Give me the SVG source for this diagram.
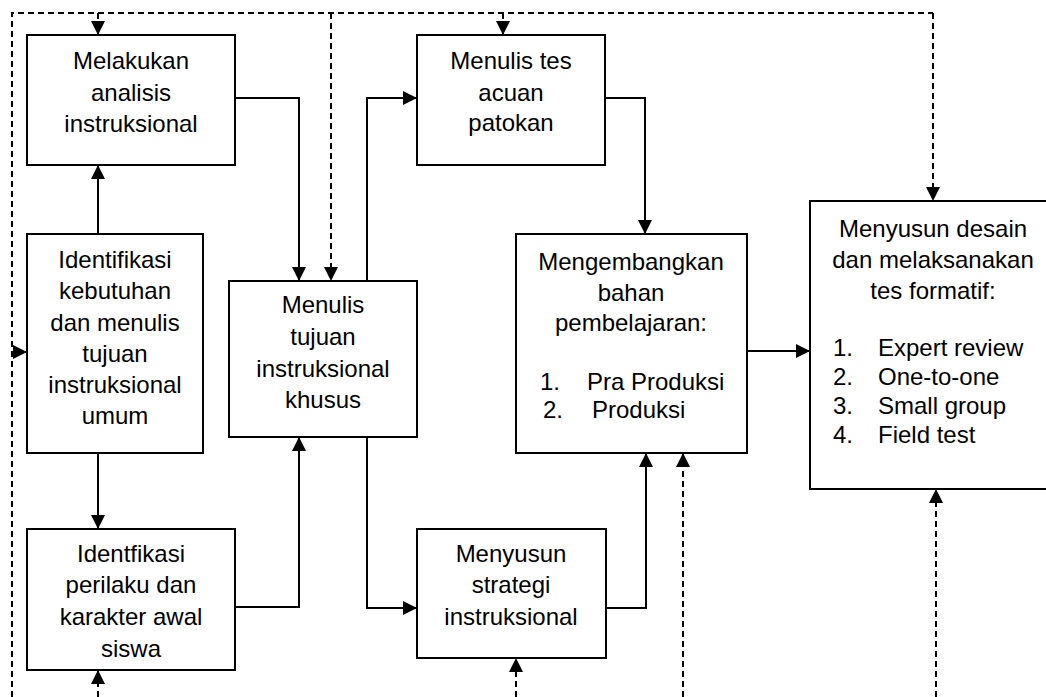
<svg xmlns="http://www.w3.org/2000/svg" width="1046" height="697" viewBox="0 0 1046 697">
<defs>
<marker id="ah" viewBox="0 0 14 14" refX="14" refY="7" markerWidth="14" markerHeight="14" markerUnits="userSpaceOnUse" orient="auto">
<path d="M0,0 L14,7 L0,14 z" fill="#000"/>
</marker>
<style>
.box{fill:#fff;stroke:#000;stroke-width:2}
.t{font-family:"Liberation Sans",Arial,sans-serif;font-size:24px;fill:#000;text-anchor:middle}
.l{font-family:"Liberation Sans",Arial,sans-serif;font-size:24px;fill:#000}
.c{fill:none;stroke:#000;stroke-width:2}
.a{marker-end:url(#ah)}
.d{stroke-dasharray:6 4}
</style>
</defs>
<rect width="1046" height="697" fill="#fff"/>
<g id="connectors">
<path class="c d" d="M12,697 V13 H933"/>
<path class="c d a" d="M12,352 H27"/>
<path class="c d a" d="M98,13 V35"/>
<path class="c d a" d="M331,13 V281"/>
<path class="c d a" d="M503,13 V35"/>
<path class="c d a" d="M933,13 V201"/>
<path class="c d a" d="M98,697 V670"/>
<path class="c d a" d="M516,697 V658"/>
<path class="c d a" d="M683,697 V453"/>
<path class="c d a" d="M936,697 V489"/>
<path class="c a" d="M235,98 H299 V281"/>
<path class="c a" d="M98,234 V165"/>
<path class="c a" d="M98,453 V529"/>
<path class="c a" d="M235,607 H299 V437"/>
<path class="c a" d="M367,281 V98 H417"/>
<path class="c a" d="M367,437 V608 H417"/>
<path class="c a" d="M605,98 H645 V234"/>
<path class="c a" d="M606,608 H646 V453"/>
<path class="c a" d="M747,351 H810"/>
</g>
<g id="n1">
<rect class="box" x="27" y="35" width="208" height="130"/>
<text class="t" x="131" y="69">Melakukan</text>
<text class="t" x="131" y="101">analisis</text>
<text class="t" x="131" y="132">instruksional</text>
</g>
<g id="n2">
<rect class="box" x="27" y="234" width="176" height="219"/>
<text class="t" x="115" y="268">Identifikasi</text>
<text class="t" x="115" y="299">kebutuhan</text>
<text class="t" x="115" y="331">dan menulis</text>
<text class="t" x="115" y="362">tujuan</text>
<text class="t" x="115" y="393">instruksional</text>
<text class="t" x="115" y="424">umum</text>
</g>
<g id="n3">
<rect class="box" x="27" y="529" width="208" height="141"/>
<text class="t" x="131" y="562">Identfikasi</text>
<text class="t" x="131" y="593">perilaku dan</text>
<text class="t" x="131" y="625">karakter awal</text>
<text class="t" x="131" y="657">siswa</text>
</g>
<g id="n4">
<rect class="box" x="229" y="281" width="188" height="156"/>
<text class="t" x="323" y="313">Menulis</text>
<text class="t" x="323" y="345">tujuan</text>
<text class="t" x="323" y="377">instruksional</text>
<text class="t" x="323" y="408">khusus</text>
</g>
<g id="n5">
<rect class="box" x="417" y="35" width="188" height="130"/>
<text class="t" x="511" y="69">Menulis tes</text>
<text class="t" x="511" y="101">acuan</text>
<text class="t" x="511" y="131">patokan</text>
</g>
<g id="n6">
<rect class="box" x="516" y="234" width="231" height="219"/>
<text class="t" x="631" y="270">Mengembangkan</text>
<text class="t" x="631" y="301">bahan</text>
<text class="t" x="631" y="331">pembelajaran:</text>
<text class="l" x="540" y="390">1.</text>
<text class="l" x="587" y="390">Pra Produksi</text>
<text class="l" x="543" y="418">2.</text>
<text class="l" x="592" y="418">Produksi</text>
</g>
<g id="n7">
<rect class="box" x="417" y="529" width="189" height="129"/>
<text class="t" x="511" y="562">Menyusun</text>
<text class="t" x="511" y="593">strategi</text>
<text class="t" x="511" y="625">instruksional</text>
</g>
<g id="n8">
<rect class="box" x="810" y="201" width="246" height="288"/>
<text class="t" x="933" y="237">Menyusun desain</text>
<text class="t" x="933" y="268">dan melaksanakan</text>
<text class="t" x="933" y="299">tes formatif:</text>
<text class="l" x="833" y="356">1.</text>
<text class="l" x="878" y="356">Expert review</text>
<text class="l" x="833" y="385">2.</text>
<text class="l" x="878" y="385">One-to-one</text>
<text class="l" x="833" y="414">3.</text>
<text class="l" x="878" y="414">Small group</text>
<text class="l" x="833" y="443">4.</text>
<text class="l" x="878" y="443">Field test</text>
</g>
</svg>
